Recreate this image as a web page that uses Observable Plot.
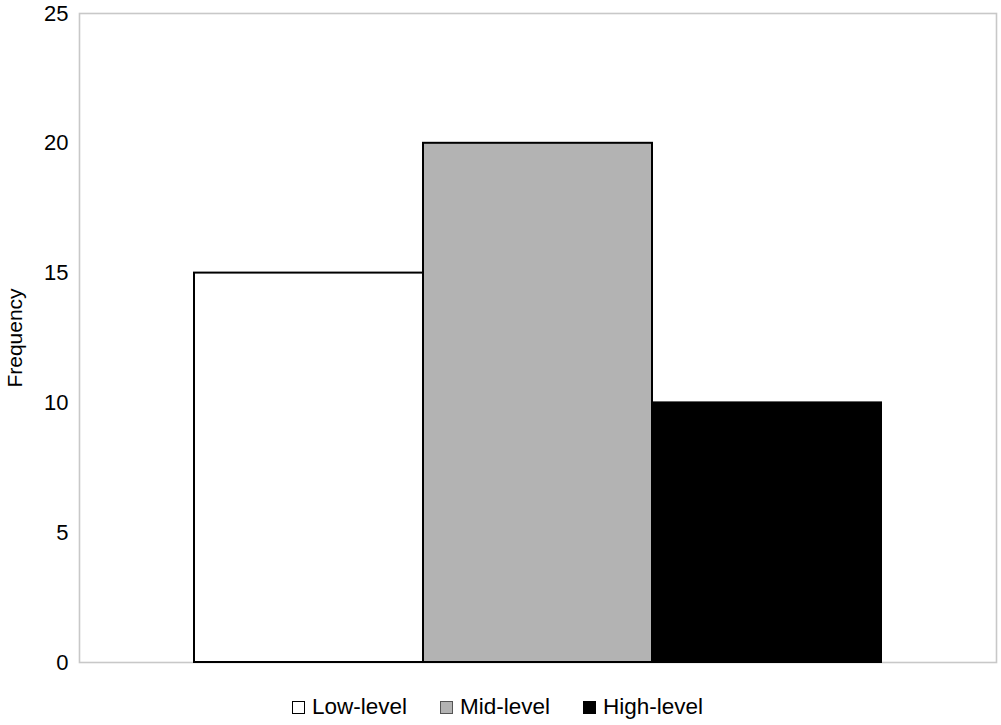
<!DOCTYPE html>
<html>
<head>
<meta charset="utf-8">
<script src="https://cdn.jsdelivr.net/npm/d3@7"></script>
<script src="https://cdn.jsdelivr.net/npm/@observablehq/plot@0.6"></script>
<style>
  html, body { margin: 0; padding: 0; background: #fff; }
  body { width: 1001px; height: 725px; overflow: hidden; font-family: "Liberation Sans", Arial, sans-serif; }
  #legend { display: flex; justify-content: center; align-items: center; font-size: 22.5px; color: #000; margin-top: 14px; padding-right: 6px; }
  .item { display: flex; align-items: center; margin: 0 16.5px; }
  .sw { width: 11px; height: 11px; border: 1.5px solid #000; margin-right: 7px; box-sizing: content-box; }
</style>
</head>
<body>
<div id="chart"></div>
<div id="legend"></div>
<script>
const categories = ["Low-level", "Mid-level", "High-level"];
const frequencies = [15, 20, 10];
const fills = ["#ffffff", "#b3b3b3", "#000000"];
const yTicks = [0, 5, 10, 15, 20, 25];

const data = categories.map((c, i) => ({category: c, value: frequencies[i], fill: fills[i]}));

const chart = Plot.plot({
  width: 1001,
  height: 680,
  marginTop: 13,
  marginBottom: 18,
  marginLeft: 79,
  marginRight: 5,
  style: {fontFamily: "'Liberation Sans', Arial, sans-serif", fontSize: "22px", color: "#000", background: "#fff"},
  x: {domain: categories, paddingInner: 0, paddingOuter: 0.5, axis: null},
  y: {domain: [0, 25]},
  marks: [
    Plot.frame({stroke: "#c8c8c8", strokeWidth: 1.6}),
    Plot.barY(data, {x: "category", y: "value", fill: "fill", stroke: "#000", strokeWidth: 2}),
    Plot.axisY({ticks: yTicks, tickSize: 0, tickPadding: 11, label: "Frequency", labelAnchor: "center", labelArrow: "none", labelOffset: 72, fontSize: 22})
  ]
});
document.getElementById("chart").appendChild(chart);
chart.querySelectorAll("[aria-label='y-axis label'] text").forEach(t => t.setAttribute("font-size", "21px"));

const legend = document.getElementById("legend");
categories.forEach((c, i) => {
  const item = document.createElement("div");
  item.className = "item";
  const sw = document.createElement("span");
  sw.className = "sw";
  sw.style.background = fills[i];
  if (i === 1) sw.style.borderColor = "#555";
  const label = document.createElement("span");
  label.textContent = c;
  item.appendChild(sw);
  item.appendChild(label);
  legend.appendChild(item);
});
</script>
</body>
</html>
